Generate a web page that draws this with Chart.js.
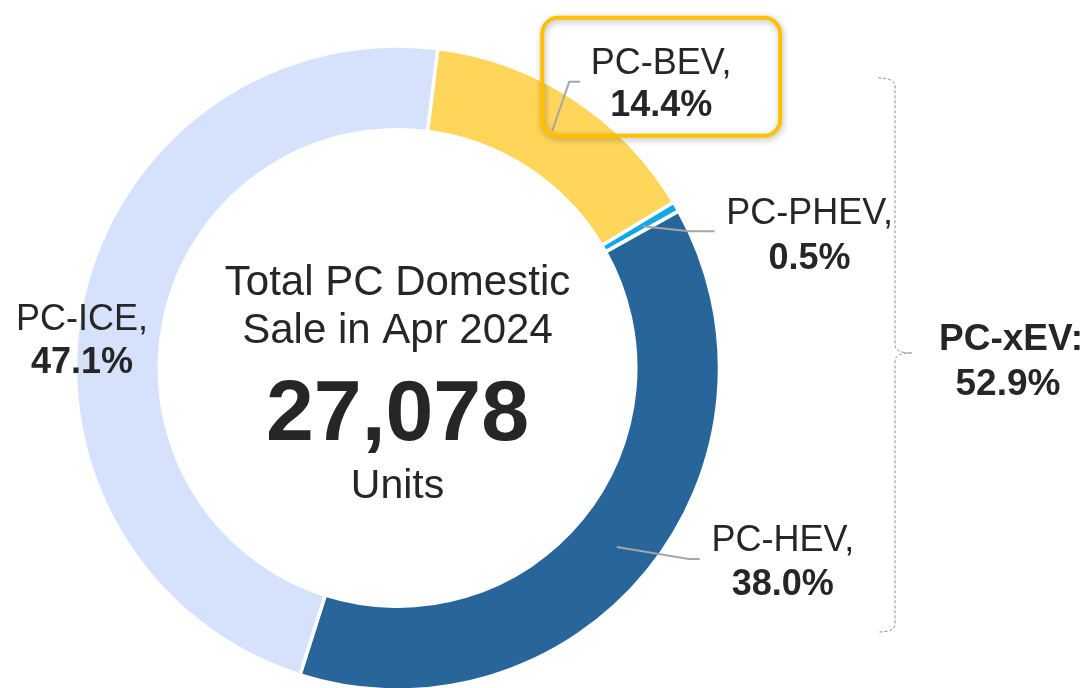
<!DOCTYPE html>
<html>
<head>
<meta charset="utf-8">
<script src="https://cdn.jsdelivr.net/npm/chart.js@4"></script>
<style>
  body { margin: 0; background: #fff; }
  #wrap { width: 1087px; height: 688px; position: relative; }
</style>
</head>
<body>
<div id="wrap"><canvas id="salesChart"></canvas></div>
<script>
// data
const categories = ["PC-BEV", "PC-PHEV", "PC-HEV", "PC-ICE"];
const shares = [14.4, 0.5, 38.0, 47.1];
const colors = ["#FFD55A", "#10A9E6", "#27659A", "#D6E2FC"];
const xevGroup = ["PC-BEV", "PC-PHEV", "PC-HEV"];
const totalUnits = 27078;
const centerTitle = ["Total PC Domestic", "Sale in Apr 2024"];
const centerUnit = "Units";

const FONT = "'Liberation Sans', Arial, sans-serif";
const TEXT = "#262626";
const LINE = "#A6A6A6";

// label placement relative to the middle of each slice (dx, dy in px)
const labelLayout = {
  "PC-BEV": { leader: [[17, -49], [28, -49]], text: [109, -57, -15], box: true },
  "PC-PHEV": { leader: [[47, 5], [72, 5]], text: [167, -2, 43] },
  "PC-HEV": { leader: [[72, 12], [83, 12]], text: [166, 4, 48] },
  "PC-ICE": { leader: null, text: [-39, 23, 66] },
};

const labelPlugin = {
  id: "sliceLabels",
  afterDatasetsDraw(chart) {
    const ctx = chart.ctx;
    const meta = chart.getDatasetMeta(0);
    const first = meta.data[0];
    const cx = first.x, cy = first.y;

    // center text
    ctx.save();
    ctx.fillStyle = TEXT;
    ctx.textAlign = "center";
    ctx.textBaseline = "alphabetic";
    ctx.font = "42px " + FONT;
    ctx.fillText(centerTitle[0], cx, cy - 73);
    ctx.fillText(centerTitle[1], cx, cy - 25);
    ctx.font = "bold 86px " + FONT;
    ctx.fillText(totalUnits.toLocaleString("en-US"), cx, cy + 72);
    ctx.font = "41px " + FONT;
    ctx.fillText(centerUnit, cx, cy + 130);
    ctx.restore();

    meta.data.forEach((arc, i) => {
      const name = categories[i];
      const lay = labelLayout[name];
      const mid = (arc.startAngle + arc.endAngle) / 2;
      const r = (arc.innerRadius + arc.outerRadius) / 2 + 3;
      const ax = cx + Math.cos(mid) * r;
      const ay = cy + Math.sin(mid) * r;

      ctx.save();
      if (lay.leader) {
        ctx.strokeStyle = LINE;
        ctx.lineWidth = 2;
        ctx.beginPath();
        ctx.moveTo(ax, ay);
        lay.leader.forEach(p => ctx.lineTo(ax + p[0], ay + p[1]));
        ctx.stroke();
      }
      const tx = ax + lay.text[0];
      if (lay.box) {
        const bx = tx - 119, by = ay + lay.text[1] - 56, bw = 238, bh = 118;
        ctx.save();
        ctx.shadowColor = "rgba(0,0,0,0.3)";
        ctx.shadowBlur = 6;
        ctx.shadowOffsetX = 1;
        ctx.shadowOffsetY = 2;
        ctx.strokeStyle = "#FFC000";
        ctx.lineWidth = 4;
        ctx.beginPath();
        ctx.roundRect(bx, by, bw, bh, 16);
        ctx.stroke();
        ctx.restore();
      }
      ctx.fillStyle = TEXT;
      ctx.textAlign = "center";
      ctx.textBaseline = "alphabetic";
      ctx.font = "36px " + FONT;
      ctx.fillText(name + ",", tx, ay + lay.text[1]);
      ctx.font = "bold 36px " + FONT;
      ctx.fillText(shares[i].toFixed(1) + "%", tx, ay + lay.text[2]);
      ctx.restore();
    });

    // brace grouping the xEV slices
    const xev = shares.filter((v, i) => xevGroup.includes(categories[i]))
      .reduce((a, b) => a + b, 0);
    const bxr = 895, top = 78, bot = 632, midY = 353;
    ctx.save();
    ctx.strokeStyle = "#8C8C8C";
    ctx.lineWidth = 1;
    ctx.setLineDash([3, 2]);
    ctx.beginPath();
    ctx.moveTo(878, top);
    ctx.quadraticCurveTo(bxr, top, bxr, top + 8);
    ctx.lineTo(bxr, midY - 8);
    ctx.quadraticCurveTo(bxr, midY, 912, midY);
    ctx.moveTo(912, midY);
    ctx.quadraticCurveTo(bxr, midY, bxr, midY + 8);
    ctx.lineTo(bxr, bot - 8);
    ctx.quadraticCurveTo(bxr, bot, 878, bot);
    ctx.stroke();
    ctx.restore();

    ctx.save();
    ctx.fillStyle = TEXT;
    ctx.textAlign = "center";
    ctx.textBaseline = "alphabetic";
    ctx.font = "bold 37px " + FONT;
    ctx.fillText("PC-xEV:", 1011, 350);
    ctx.fillText(xev.toFixed(1) + "%", 1008, 395);
    ctx.restore();
  },
};

const ctx = document.getElementById("salesChart").getContext("2d");

const salesChart = new Chart(ctx, {
  type: "doughnut",
  data: {
    labels: categories,
    datasets: [
      {
        data: shares,
        backgroundColor: colors,
        borderColor: "#ffffff",
        borderWidth: 3.5,
      },
    ],
  },
  options: {
    responsive: true,
    maintainAspectRatio: false,
    animation: false,
    rotation: 7.2,
    cutout: "74%",
    radius: 322,
    layout: {
      padding: { left: 77.5, right: 369.5, top: 48, bottom: 0 },
    },
    plugins: {
      legend: { display: false },
      tooltip: { enabled: false },
    },
  },
  plugins: [labelPlugin],
});
</script>
</body>
</html>
